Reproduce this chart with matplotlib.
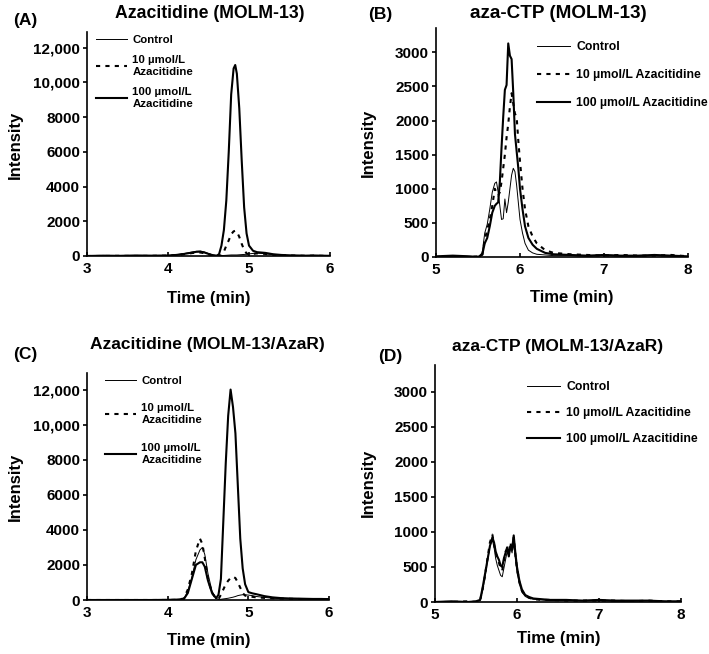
import matplotlib
matplotlib.use("Agg")
import matplotlib.pyplot as plt

plt.rcParams['font.family'] = ['Liberation Sans', 'DejaVu Sans']
plt.rcParams['font.weight'] = 'bold'

W, H = 709, 654

# ---- data ----
t_aza1 = [3.00, 3.20, 3.40, 3.60, 3.80, 4.00, 4.10, 4.20, 4.30, 4.35, 4.40, 4.45, 4.50, 4.55,
          4.60, 4.63, 4.66, 4.69, 4.72, 4.75, 4.78, 4.81, 4.83, 4.85, 4.88, 4.91, 4.94, 4.97,
          5.00, 5.05, 5.10, 5.15, 5.20, 5.25, 5.30, 5.40, 5.50, 5.60, 5.70, 5.80, 5.90, 6.00]
a_ctrl = [0, 10, 0, 20, 10, 20, 70, 140, 230, 270, 280, 230, 140, 60,
          20, 10, 20, 30, 40, 50, 60, 60, 60, 60, 70, 80, 90, 100,
          120, 150, 160, 150, 130, 100, 80, 50, 30, 20, 20, 20, 20, 10]
a_10 = [0, 0, 10, 0, 10, 20, 50, 100, 170, 200, 200, 160, 90, 40,
        10, 0, 50, 250, 600, 900, 1250, 1420, 1450, 1400, 1100, 700, 350, 150,
        100, 120, 150, 140, 120, 90, 60, 40, 30, 20, 10, 20, 10, 0]
a_100 = [0, 20, 10, 30, 20, 30, 60, 120, 200, 240, 250, 200, 120, 50,
         20, 100, 600, 1500, 3200, 6000, 9300, 10800, 11000, 10500, 8500, 5500, 2800, 1300,
         600, 300, 220, 200, 180, 140, 100, 60, 40, 30, 20, 30, 20, 10]

t_ctp = [5.00, 5.20, 5.40, 5.50, 5.55, 5.58, 5.61, 5.64, 5.67, 5.70, 5.72, 5.74, 5.76, 5.78,
         5.80, 5.82, 5.84, 5.86, 5.88, 5.90, 5.92, 5.94, 5.96, 5.98, 6.00, 6.03, 6.06, 6.10,
         6.15, 6.20, 6.30, 6.40, 6.60, 6.80, 7.00, 7.20, 7.40, 7.60, 7.80, 8.00]
b_ctrl = [0, 10, 0, 0, 60, 350, 480, 700, 950, 1080, 1100, 950, 750, 550,
          560, 850, 650, 800, 1000, 1200, 1300, 1250, 1050, 800, 550, 350, 200, 100,
          60, 40, 30, 20, 20, 10, 20, 10, 10, 20, 10, 0]
b_10 = [0, 10, 0, 10, 20, 250, 400, 550, 750, 1000, 950, 900, 950, 1100,
        1300, 1500, 1750, 1950, 2200, 2400, 2250, 2100, 2050, 1700, 1400, 1000, 700, 450,
        300, 200, 100, 60, 40, 30, 20, 30, 20, 20, 30, 10]
b_100 = [10, 20, 10, 0, 30, 200, 280, 450, 650, 750, 780, 800, 1100, 1600,
         2050, 2450, 2520, 3130, 2950, 2900, 2400, 1800, 1550, 1300, 1000, 700, 450, 280,
         180, 120, 60, 40, 30, 20, 30, 20, 20, 30, 20, 10]

t_aza2 = [3.00, 3.20, 3.40, 3.60, 3.80, 4.00, 4.10, 4.20, 4.25, 4.30, 4.35, 4.40, 4.43, 4.46,
          4.50, 4.55, 4.60, 4.63, 4.66, 4.69, 4.72, 4.75, 4.78, 4.81, 4.84, 4.87, 4.90, 4.93,
          4.96, 5.00, 5.05, 5.10, 5.20, 5.30, 5.40, 5.50, 5.60, 5.70, 5.80, 5.90, 6.00]
c_ctrl = [0, 0, 0, 0, 0, 0, 10, 60, 500, 1300, 2300, 2850, 3000, 2600,
          1500, 500, 100, 30, 40, 60, 80, 100, 130, 160, 200, 250, 280, 300,
          300, 280, 250, 200, 150, 100, 80, 70, 60, 50, 50, 40, 40]
c_10 = [0, 0, 0, 0, 0, 0, 10, 80, 600, 1500, 2800, 3500, 3200, 2400,
        1200, 400, 80, 50, 300, 600, 900, 1100, 1250, 1330, 1250, 1000, 700, 400,
        250, 200, 180, 150, 120, 100, 80, 70, 60, 50, 50, 40, 40]
c_100 = [0, 0, 0, 0, 0, 10, 20, 50, 400, 1200, 2000, 2150, 2150, 1900,
         1100, 400, 100, 300, 1200, 4500, 7800, 10500, 12000, 11000, 9500, 6500, 3500, 1800,
         900, 450, 380, 330, 220, 150, 110, 90, 80, 70, 60, 60, 50]

d_ctrl = [0, 0, 0, 10, 20, 150, 350, 580, 800, 880, 780, 620, 520, 450,
          380, 360, 480, 600, 720, 650, 780, 700, 880, 620, 420, 250, 140, 80,
          50, 40, 30, 20, 20, 20, 20, 10, 10, 20, 10, 0]
d_10 = [0, 0, 10, 0, 20, 180, 380, 620, 850, 960, 820, 700, 620, 560,
        480, 450, 580, 720, 750, 700, 850, 720, 920, 680, 480, 280, 160, 90,
        60, 40, 30, 30, 20, 20, 20, 20, 10, 20, 10, 10]
d_100 = [0, 10, 0, 10, 30, 200, 400, 600, 800, 920, 850, 720, 650, 600,
         520, 500, 620, 700, 780, 650, 800, 750, 950, 700, 500, 300, 180, 100,
         70, 50, 40, 30, 30, 20, 30, 20, 20, 20, 10, 10]

aza_ticks = [0, 2000, 4000, 6000, 8000, 10000, 12000]
aza_labels = ['0', '2000', '4000', '6000', '8000', '10,000', '12,000']
ctp_ticks = [0, 500, 1000, 1500, 2000, 2500, 3000]
legend_two_line = ['Control', '10 µmol/L\nAzacitidine', '100 µmol/L\nAzacitidine']
legend_one_line = ['Control', '10 µmol/L Azacitidine', '100 µmol/L Azacitidine']

fig = plt.figure(figsize=(W / 100, H / 100), dpi=100)


def box(l, t, r, b):
    return [l / W, 1 - b / H, (r - l) / W, (b - t) / H]


def panel(rect, t, ctrl, c10, c100, xlim, ylim, xticks, yticks, ylabels, labels,
          leg_xy, spacing, legsize):
    ax = fig.add_axes(rect)
    l1, = ax.plot(t, ctrl, color='black', lw=0.7)
    l2, = ax.plot(t, c10, color='black', lw=1.5, linestyle=(0, (2, 2.5)))
    l3, = ax.plot(t, c100, color='black', lw=1.5)
    ax.set_xlim(*xlim)
    ax.set_ylim(*ylim)
    ax.set_xticks(xticks)
    ax.set_yticks(yticks)
    ax.set_yticklabels(ylabels)
    for s in ['top', 'right']:
        ax.spines[s].set_visible(False)
    for s in ['left', 'bottom']:
        ax.spines[s].set_linewidth(1.2)
    ax.tick_params(axis='y', direction='out', length=3, width=1.2, labelsize=11, pad=2)
    ax.tick_params(axis='x', direction='in', length=3, width=1.2, labelsize=11, pad=4)
    leg = ax.legend([l1, l2, l3], labels, loc='upper left', frameon=False,
                    bbox_to_anchor=(leg_xy[0] / W, 1 - leg_xy[1] / H),
                    bbox_transform=fig.transFigure,
                    fontsize=legsize, handlelength=2.7, handletextpad=0.5,
                    labelspacing=spacing, borderpad=0, borderaxespad=0)
    for txt in leg.get_texts():
        txt.set_linespacing(1.3)
    return ax


panel(box(87, 32, 330, 256), t_aza1, a_ctrl, a_10, a_100, (3, 6), (0, 12900),
      [3, 4, 5, 6], aza_ticks, aza_labels, legend_two_line, (96, 35), 0.85, 8.2)
panel(box(436, 28, 688, 257), t_ctp, b_ctrl, b_10, b_100, (5, 8), (0, 3356),
      [5, 6, 7, 8], ctp_ticks, [str(v) for v in ctp_ticks], legend_one_line, (537, 41), 1.3, 8.8)
panel(box(87, 373, 329, 600), t_aza2, c_ctrl, c_10, c_100, (3, 6), (0, 12945),
      [3, 4, 5, 6], aza_ticks, aza_labels, legend_two_line, (105, 376), 1.5, 8.2)
panel(box(435, 365, 681, 602), t_ctp, d_ctrl, d_10, d_100, (5, 8), (0, 3380),
      [5, 6, 7, 8], ctp_ticks, [str(v) for v in ctp_ticks], legend_one_line, (527, 381), 1.15, 8.8)

titles = [('Azacitidine (MOLM-13)', 210, 13, 12.7), ('aza-CTP (MOLM-13)', 558, 14, 13.6),
          ('Azacitidine (MOLM-13/AzaR)', 207, 345, 12.5), ('aza-CTP (MOLM-13/AzaR)', 558, 347, 12.5)]
for txt, x, y, fs in titles:
    fig.text(x / W, 1 - y / H, txt, ha='center', va='center', fontsize=fs, fontweight='bold')

tags = [('(A)', 13, 20), ('(B)', 368, 15), ('(C)', 13, 355), ('(D)', 378, 357)]
for txt, x, y in tags:
    fig.text(x / W, 1 - y / H, txt, ha='left', va='center', fontsize=12.5, fontweight='bold')

xlabels = [(209, 298), (572, 297), (209, 641), (559, 638)]
for x, y in xlabels:
    fig.text(x / W, 1 - y / H, 'Time (min)', ha='center', va='center', fontsize=12, fontweight='bold')

ylabels = [(15, 145), (368, 143), (15, 487), (368, 483)]
for x, y in ylabels:
    fig.text(x / W, 1 - y / H, 'Intensity', ha='center', va='center', rotation=90,
             fontsize=12, fontweight='bold')

fig.savefig('out.png', dpi=100)
